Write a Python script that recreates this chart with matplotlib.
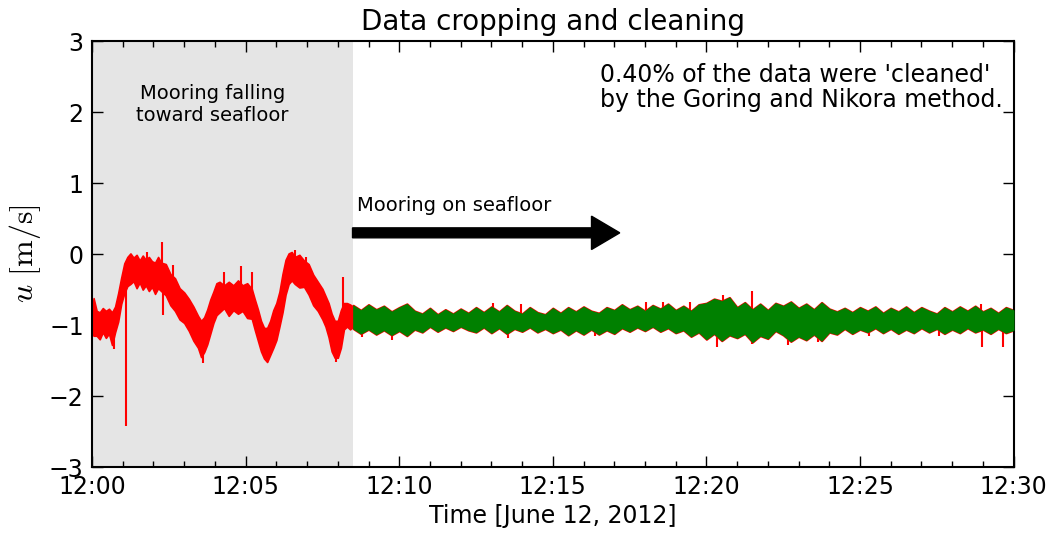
import numpy as np
import matplotlib
matplotlib.use("Agg")
import matplotlib.pyplot as plt
from matplotlib.ticker import MultipleLocator

plt.rcParams["mathtext.fontset"] = "cm"

# minutes after 12:00, June 12 2012
fall_t = [0.00, 0.05, 0.15, 0.25, 0.35, 0.45, 0.55, 0.65, 0.75, 0.85, 0.95,
          1.05, 1.15, 1.25, 1.35, 1.45, 1.55, 1.65, 1.75, 1.85, 1.95, 2.05,
          2.15, 2.25, 2.40, 2.55, 2.70, 2.85, 3.00, 3.15, 3.30, 3.45, 3.55,
          3.65, 3.75, 3.85, 3.95, 4.05, 4.15, 4.30, 4.45, 4.60, 4.75, 4.90,
          5.05, 5.20, 5.30, 5.40, 5.50, 5.60, 5.70, 5.80, 5.90, 6.00, 6.10,
          6.20, 6.30, 6.40, 6.50, 6.60, 6.75, 6.90, 7.05, 7.20, 7.35, 7.50,
          7.60, 7.70, 7.80, 7.90, 8.00, 8.10, 8.20, 8.30, 8.40, 8.50]
fall_lo = [-1.10, -1.15, -1.15, -1.20, -1.10, -1.18, -1.12, -1.28, -1.10, -0.95, -0.70,
           -0.55, -0.45, -0.42, -0.38, -0.48, -0.40, -0.50, -0.44, -0.52, -0.46, -0.56,
           -0.48, -0.52, -0.58, -0.72, -0.80, -0.92, -0.97, -1.08, -1.22, -1.32, -1.45,
           -1.38, -1.27, -1.12, -0.97, -0.86, -0.82, -0.76, -0.87, -0.79, -0.84, -0.80,
           -0.90, -0.91, -1.07, -1.22, -1.37, -1.47, -1.52, -1.42, -1.32, -1.21, -1.02,
           -0.82, -0.57, -0.42, -0.37, -0.42, -0.47, -0.46, -0.57, -0.72, -0.80, -0.92,
           -1.02, -1.17, -1.37, -1.46, -1.46, -1.32, -1.06, -1.02, -1.06, -1.02]
fall_hi = [-0.80, -0.62, -0.80, -0.82, -0.76, -0.80, -0.77, -0.82, -0.74, -0.55, -0.33,
           -0.13, -0.04, 0.01, -0.05, -0.01, -0.09, -0.02, -0.08, -0.04, -0.10, -0.12,
           -0.04, -0.12, -0.14, -0.28, -0.34, -0.48, -0.54, -0.63, -0.74, -0.87, -0.94,
           -0.89, -0.78, -0.64, -0.53, -0.41, -0.39, -0.44, -0.39, -0.44, -0.37, -0.44,
           -0.41, -0.49, -0.64, -0.78, -0.94, -1.04, -1.04, -0.94, -0.79, -0.69, -0.53,
           -0.28, -0.08, 0.01, 0.03, -0.04, -0.01, -0.09, -0.14, -0.29, -0.39, -0.49,
           -0.59, -0.69, -0.84, -0.94, -0.94, -0.79, -0.69, -0.69, -0.71, -0.74]

# single-sample spikes in the raw record: time, peak value, level it leaves from
spike_t = [1.10, 2.28, 2.30, 4.85, 5.20, 8.17, 1.78, 2.65, 4.30, 6.62,
           6.95, 7.95, 3.62, 0.70,
           8.78, 9.75, 13.05, 13.54, 13.98, 16.37, 18.05, 18.58, 19.47,
           20.33, 20.53, 21.47, 21.48, 22.65, 23.63, 25.30, 27.56, 28.95,
           28.96, 29.65]
spike_u = [-2.42, 0.17, -0.86, -0.17, -0.25, -0.32, 0.03, -0.15, -0.25, 0.06,
           -0.04, -1.52, -1.53, -1.33,
           -1.17, -1.21, -0.69, -1.18, -0.70, -1.16, -0.67, -0.68, -0.68,
           -1.31, -0.57, -0.52, -1.27, -1.28, -1.24, -1.16, -1.16, -0.70,
           -1.31, -1.31]
spike_base = [-0.45, -0.30, -0.40, -0.50, -0.60, -0.80, -0.30, -0.50, -0.55, -0.20,
              -0.30, -1.20, -1.20, -1.00,
              -0.95, -0.95, -0.95, -0.95, -0.95, -0.95, -0.95, -0.95, -0.95,
              -0.95, -0.95, -0.95, -0.95, -0.95, -0.95, -0.95, -0.95, -0.95,
              -0.95, -0.95]

# cleaned record on the seafloor, envelope every 15 s
clean_t = np.arange(8.5, 30.01, 0.25)
clean_hi = [-0.72, -0.79, -0.71, -0.78, -0.73, -0.81, -0.75, -0.70, -0.80, -0.84, -0.76, -0.85, -0.78, -0.84, -0.77, -0.83,
            -0.75, -0.82, -0.74, -0.81, -0.72, -0.80, -0.84, -0.75, -0.82, -0.85, -0.76, -0.83, -0.75, -0.81, -0.74, -0.80,
            -0.83, -0.75, -0.79, -0.71, -0.78, -0.73, -0.80, -0.72, -0.77, -0.70, -0.79, -0.73, -0.80, -0.71, -0.69, -0.63,
            -0.66, -0.61, -0.75, -0.68, -0.78, -0.70, -0.79, -0.69, -0.73, -0.67, -0.76, -0.70, -0.78, -0.68, -0.77, -0.81,
            -0.76, -0.82, -0.75, -0.80, -0.74, -0.83, -0.76, -0.81, -0.74, -0.82, -0.75, -0.80, -0.84, -0.75, -0.81, -0.74,
            -0.80, -0.73, -0.81, -0.76, -0.83, -0.75, -0.79]
clean_lo = [-1.05, -1.12, -1.06, -1.13, -1.07, -1.14, -1.08, -1.15, -1.06, -1.10, -1.02, -1.09, -1.03, -1.08, -1.02, -1.07,
            -1.10, -1.03, -1.11, -1.04, -1.12, -1.05, -1.09, -1.03, -1.10, -1.05, -1.11, -1.06, -1.14, -1.07, -1.13, -1.06,
            -1.13, -1.07, -1.12, -1.04, -1.09, -1.03, -1.08, -1.02, -1.09, -1.04, -1.11, -1.07, -1.16, -1.10, -1.20, -1.12,
            -1.22, -1.14, -1.18, -1.12, -1.24, -1.15, -1.19, -1.08, -1.14, -1.23, -1.16, -1.21, -1.13, -1.22, -1.10, -1.13,
            -1.05, -1.12, -1.06, -1.10, -1.04, -1.11, -1.05, -1.12, -1.06, -1.11, -1.04, -1.10, -1.05, -1.12, -1.06, -1.11,
            -1.04, -1.10, -1.06, -1.12, -1.05, -1.11, -1.07]

xticks = [0, 5, 10, 15, 20, 25, 30]
xticklabels = ["12:00", "12:05", "12:10", "12:15", "12:20", "12:25", "12:30"]
t_drop = 8.48

fig = plt.figure(figsize=(10.58, 5.35), dpi=100)
ax = fig.add_axes([0.087, 0.127, 0.871, 0.796])

ax.axvspan(0, t_drop, color="#e5e5e5", lw=0, zorder=0)

# raw record (red), cleaned record on top (green)
ax.fill_between(fall_t, fall_lo, fall_hi, color="red", lw=1.2, zorder=2)
ax.fill_between(clean_t, clean_lo, clean_hi, facecolor="red", edgecolor="red", lw=1.5, zorder=2)
ax.vlines(spike_t, spike_base, spike_u, color="red", lw=1.5, zorder=2)
ax.fill_between(clean_t, clean_lo, clean_hi, color="green", lw=0.6, zorder=3)

ax.arrow(t_drop, 0.30, 17.18 - t_drop, 0, width=0.14, head_width=0.47,
         head_length=0.92, length_includes_head=True, fc="k", ec="k", zorder=4)
ax.text(t_drop + 0.15, 0.68, "Mooring on seafloor", fontsize=14, ha="left", va="center")
ax.text(3.92, 2.11, "Mooring falling\ntoward seafloor", fontsize=14,
        ha="center", va="center", linespacing=1.2)
ax.text(16.53, 2.35, "0.40% of the data were 'cleaned'\nby the Goring and Nikora method.",
        fontsize=17, ha="left", va="center", linespacing=1.05)

ax.set_xlim(0, 30)
ax.set_ylim(-3, 3)
ax.set_xticks(xticks)
ax.set_xticklabels(xticklabels)
ax.xaxis.set_minor_locator(MultipleLocator(1))
ax.set_yticks(range(-3, 4))
ax.set_yticklabels([str(v).replace("-", "\u2212") for v in range(-3, 4)])
ax.tick_params(which="both", direction="in", top=True, right=True, labelsize=17, pad=6)
ax.tick_params(which="major", length=8, width=1)
ax.tick_params(which="minor", length=4, width=1)
for s in ax.spines.values():
    s.set_linewidth(1.5)

ax.set_title("Data cropping and cleaning", fontsize=20, pad=8)
ax.set_xlabel("Time [June 12, 2012]", fontsize=17, labelpad=3)
ax.set_ylabel(r"$u\ [\mathrm{m/s}]$", fontsize=23, labelpad=4)

fig.savefig("out.png", dpi=100)
